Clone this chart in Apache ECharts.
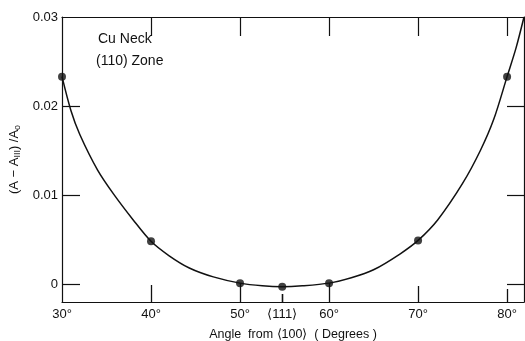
<!DOCTYPE html>
<html><head><meta charset="utf-8">
<script src="https://cdn.jsdelivr.net/npm/echarts@6/dist/echarts.min.js"></script>
<style>html,body{margin:0;padding:0;background:#fff}#c{width:525px;height:341px}</style>
</head><body><div id="c"></div>
<script>
// measured points
const pointAngles = [30, 40, 50, 54.74, 60, 70, 80];
const pointValues = [0.0233, 0.0048, 0.0001, -0.0003, 0.0001, 0.0049, 0.0233];
// fitted curve
const curveAngles = [30, 31, 32, 34, 35.8, 38, 40, 42, 44.3, 47, 50, 52.5, 54.74, 57, 60, 62.5, 65, 68, 70, 72.2, 75, 77, 78.5, 80, 81, 81.9];
const curveValues = [0.0233, 0.0195, 0.0168, 0.0128, 0.0101, 0.0072, 0.0048, 0.0032, 0.0018, 0.0008, 0.0001, -0.0002, -0.0003, -0.0002, 0.0001, 0.0007, 0.0016, 0.0034, 0.0049, 0.0072, 0.0113, 0.0150, 0.0185, 0.0233, 0.0265, 0.0300];
// tick labels
const xTickValues = [30, 40, 50, 60, 70, 80];
const xTickLabels = ['30°', '40°', '50°', '60°', '70°', '80°'];
const bottomTickValues = [40, 50, 54.74, 60, 70, 80];
const yTickValues = [0, 0.01, 0.02, 0.03];
const yTickLabels = ['0', '0.01', '0.02', '0.03'];
const axisTitleX = 'Angle  from ⟨100⟩  ( Degrees )';
const noteLines = ['Cu Neck', '(110) Zone'];

const FONT = 'Liberation Sans';
const X_MIN = 30, X_MAX = 81.9, Y_MIN = -0.00202, Y_MAX = 0.03;
const ink = '#111';
const bottomTickLen = {40: 17, 50: 19, 54.74: 8, 60: 19, 70: 16, 80: 13};
const GRID = {left: 62, right: 1, top: 17, bottom: 39};

const chart = echarts.init(document.getElementById('c'), null, {renderer: 'canvas'});
const baseX = {
  type: 'value', min: X_MIN, max: X_MAX, gridIndex: 0,
  splitLine: {show: false}, axisLabel: {show: false},
  axisLine: {show: false, onZero: false}, axisTick: {show: false}
};
const baseY = {
  type: 'value', min: Y_MIN, max: Y_MAX, gridIndex: 0,
  splitLine: {show: false}, axisLabel: {show: false},
  axisLine: {show: false, onZero: false}, axisTick: {show: false}
};
chart.setOption({
  animation: false,
  backgroundColor: '#fff',
  grid: Object.assign({containLabel: false, outerBoundsMode: 'none'}, GRID),
  xAxis: [
    Object.assign({}, baseX, {
      position: 'bottom',
      axisLine: {show: true, onZero: false, lineStyle: {color: ink, width: 1.2}},
      axisLabel: {show: true, customValues: xTickValues, margin: 6, color: ink, fontFamily: FONT, fontSize: 13,
        formatter: v => xTickLabels[xTickValues.indexOf(Math.round(v))] || ''},
      name: axisTitleX, nameLocation: 'middle', nameGap: 26,
      nameTextStyle: {color: ink, fontFamily: FONT, fontSize: 12.5}
    }),
    Object.assign({}, baseX, {
      position: 'top',
      axisLine: {show: true, onZero: false, lineStyle: {color: ink, width: 1.2}},
      axisTick: {show: true, inside: true, length: 19, customValues: [40, 50, 60, 70, 80], lineStyle: {color: ink, width: 1.2}}
    }),
    Object.assign({}, baseX, {
      position: 'bottom',
      axisLabel: {show: true, customValues: [54.74], margin: 6, color: ink, fontFamily: FONT, fontSize: 13,
        formatter: () => '⟨111⟩'}
    })
  ],
  yAxis: [
    Object.assign({}, baseY, {
      position: 'left',
      axisLine: {show: true, onZero: false, lineStyle: {color: ink, width: 1.2}},
      axisTick: {show: true, inside: true, length: 18, customValues: [0, 0.01, 0.02], lineStyle: {color: ink, width: 1.2}},
      axisLabel: {show: true, customValues: yTickValues, margin: 4, color: ink, fontFamily: FONT, fontSize: 13,
        formatter: v => { const i = yTickValues.findIndex(t => Math.abs(t - v) < 1e-9); return i >= 0 ? yTickLabels[i] : ''; }},
      name: '{n|(A − A}{s|III}{n|) /A}{s|o}', nameLocation: 'middle', nameGap: 40, nameRotate: 90,
      nameTextStyle: {rich: {
        n: {color: ink, fontFamily: FONT, fontSize: 13},
        s: {color: ink, fontFamily: FONT, fontSize: 9, verticalAlign: 'bottom', padding: [6, 0, 0, 0]}
      }}
    }),
    Object.assign({}, baseY, {
      position: 'right',
      axisLine: {show: true, onZero: false, lineStyle: {color: ink, width: 1.2}},
      axisTick: {show: true, inside: true, length: 17, customValues: [0, 0.01, 0.02], lineStyle: {color: ink, width: 1.2}}
    })
  ],
  series: [
    {
      type: 'line', xAxisIndex: 0, yAxisIndex: 0, smooth: 0.3, showSymbol: false, clip: false,
      lineStyle: {color: ink, width: 1.5},
      data: curveAngles.map((a, i) => [a, curveValues[i]])
    },
    {
      type: 'scatter', xAxisIndex: 0, yAxisIndex: 0, symbol: 'circle', symbolSize: 8,
      itemStyle: {color: ink},
      data: pointAngles.map((a, i) => [a, pointValues[i]])
    }
  ]
});
// bottom ticks drawn as graphic lines positioned through the axis scale
const tickGraphics = bottomTickValues.map((v, i) => {
  const p = chart.convertToPixel({xAxisIndex: 0, yAxisIndex: 0}, [v, Y_MIN]);
  const x = Math.round(p[0]) + 0.5;
  return {type: 'line', id: 'btick' + i, z: 100, shape: {x1: x, y1: p[1], x2: x, y2: p[1] - bottomTickLen[v]},
    style: {stroke: ink, lineWidth: v === 54.74 ? 1.6 : 1.3}};
});
chart.setOption({graphic: [
  {type: 'text', id: 'note0', left: 98, top: 32, style: {text: noteLines[0], fill: ink, font: '14px "Liberation Sans"'}},
  {type: 'text', id: 'note1', left: 96, top: 54, style: {text: noteLines[1], fill: ink, font: '14px "Liberation Sans"'}}
].concat(tickGraphics)});
</script></body></html>
